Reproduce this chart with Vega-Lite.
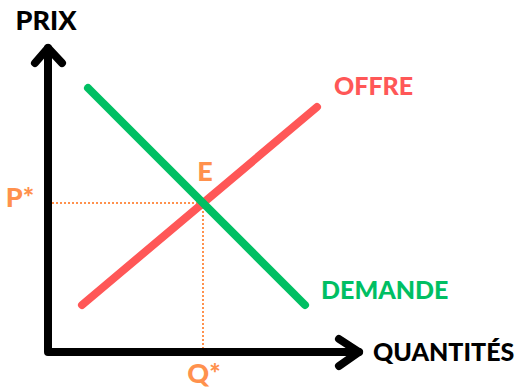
{
  "$schema": "https://vega.github.io/schema/vega-lite/v6.json",
  "width": 515,
  "height": 388,
  "padding": 0,
  "autosize": {"type": "none"},
  "background": "white",
  "config": {"view": {"stroke": null}},
  "datasets": {
    "lines": [
      {"series": "axes", "ord": 1, "q": 0, "p": 304},
      {"series": "axes", "ord": 2, "q": 0, "p": 0},
      {"series": "axes", "ord": 3, "q": 311, "p": 0},
      {"series": "arrowY", "ord": 1, "q": -13, "p": 289},
      {"series": "arrowY", "ord": 2, "q": 0, "p": 304},
      {"series": "arrowY", "ord": 3, "q": 14, "p": 289},
      {"series": "arrowX", "ord": 1, "q": 291, "p": 13},
      {"series": "arrowX", "ord": 2, "q": 311, "p": 0},
      {"series": "arrowX", "ord": 3, "q": 291, "p": -14},
      {"series": "offre", "ord": 1, "q": 34, "p": 47},
      {"series": "offre", "ord": 2, "q": 269, "p": 245},
      {"series": "demande", "ord": 1, "q": 40, "p": 264},
      {"series": "demande", "ord": 2, "q": 257, "p": 47}
    ],
    "guides": [
      {"series": "h", "ord": 1, "q": 0, "p": 149},
      {"series": "h", "ord": 2, "q": 155, "p": 149},
      {"series": "v", "ord": 1, "q": 155, "p": 149},
      {"series": "v", "ord": 2, "q": 155, "p": 0}
    ],
    "labels": [
      {"label": "PRIX", "kind": "axis", "q": -2, "p": 330, "anchor": "c"},
      {"label": "QUANTITÉS", "kind": "axis", "q": 325, "p": -1, "anchor": "l"},
      {"label": "OFFRE", "kind": "offre", "q": 286, "p": 265, "anchor": "l"},
      {"label": "DEMANDE", "kind": "demande", "q": 273, "p": 61, "anchor": "l"},
      {"label": "E", "kind": "eq", "q": 157, "p": 179, "anchor": "c"},
      {"label": "P*", "kind": "eq", "q": -28, "p": 153, "anchor": "c"},
      {"label": "Q*", "kind": "eq", "q": 156, "p": -23, "anchor": "c"}
    ]
  },
  "resolve": {"scale": {"color": "independent"}},
  "layer": [
    {
      "data": {"name": "guides"},
      "mark": {"type": "line", "strokeWidth": 2, "strokeDash": [2, 2], "color": "#FF914D", "clip": false},
      "encoding": {
        "x": {"field": "q", "type": "quantitative", "scale": {"domain": [-48, 467], "nice": false, "zero": false}, "axis": null},
        "y": {"field": "p", "type": "quantitative", "scale": {"domain": [-36, 352], "nice": false, "zero": false}, "axis": null},
        "detail": {"field": "series"},
        "order": {"field": "ord"}
      }
    },
    {
      "data": {"name": "lines"},
      "mark": {"type": "line", "strokeWidth": 8, "strokeCap": "round", "strokeJoin": "round", "clip": false},
      "encoding": {
        "x": {"field": "q", "type": "quantitative", "scale": {"domain": [-48, 467], "nice": false, "zero": false}, "axis": null},
        "y": {"field": "p", "type": "quantitative", "scale": {"domain": [-36, 352], "nice": false, "zero": false}, "axis": null},
        "detail": {"field": "series"},
        "order": {"field": "ord"},
        "color": {"field": "series", "type": "nominal", "legend": null,
          "scale": {"domain": ["axes", "arrowY", "arrowX", "offre", "demande"], "range": ["#000000", "#000000", "#000000", "#FF5757", "#00BF63"]}}
      }
    },
    {
      "data": {"name": "labels"},
      "transform": [{"filter": "datum.anchor == 'c'"}],
      "mark": {"type": "text", "font": "Lato", "fontWeight": 900, "fontSize": 27, "align": "center", "baseline": "middle"},
      "encoding": {
        "x": {"field": "q", "type": "quantitative"},
        "y": {"field": "p", "type": "quantitative"},
        "text": {"field": "label"},
        "color": {"field": "kind", "type": "nominal", "legend": null,
          "scale": {"domain": ["axis", "offre", "demande", "eq"], "range": ["#000000", "#FF5757", "#00BF63", "#FF914D"]}}
      }
    },
    {
      "data": {"name": "labels"},
      "transform": [{"filter": "datum.anchor == 'l'"}],
      "mark": {"type": "text", "font": "Lato", "fontWeight": 900, "fontSize": 25, "align": "left", "baseline": "middle"},
      "encoding": {
        "x": {"field": "q", "type": "quantitative"},
        "y": {"field": "p", "type": "quantitative"},
        "text": {"field": "label"},
        "color": {"field": "kind", "type": "nominal", "legend": null,
          "scale": {"domain": ["axis", "offre", "demande", "eq"], "range": ["#000000", "#FF5757", "#00BF63", "#FF914D"]}}
      }
    }
  ]
}
